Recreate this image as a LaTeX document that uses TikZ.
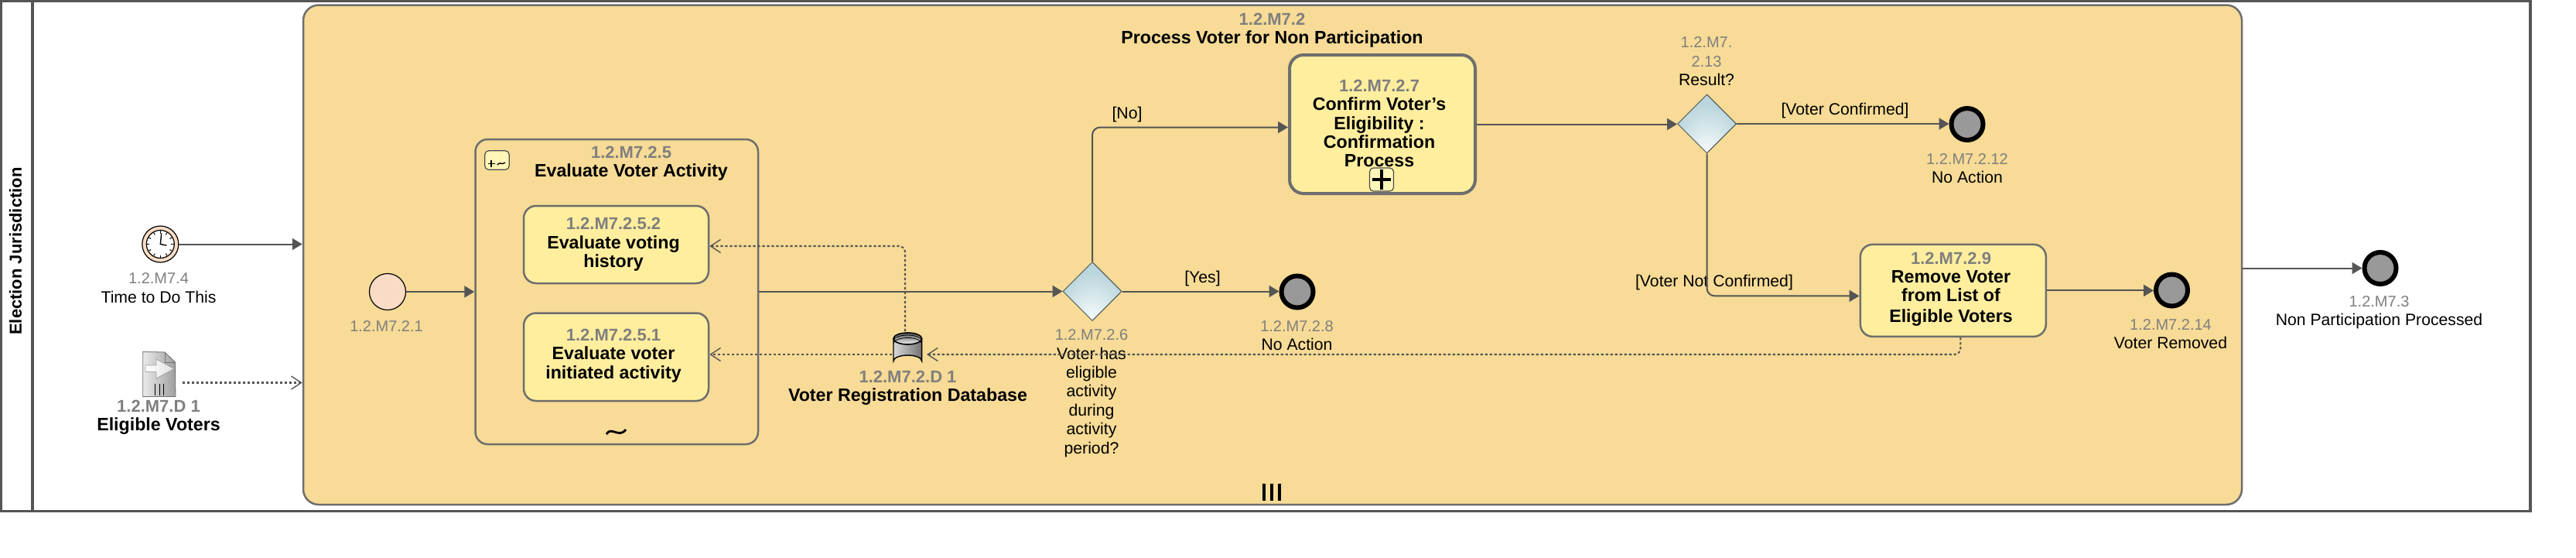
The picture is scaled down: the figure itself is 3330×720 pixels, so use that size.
\documentclass[tikz,border=0pt]{standalone}
\usepackage{fontspec}
\setmainfont{Liberation Sans}
\usepackage{xcolor}
\usepackage{tikz}
\usetikzlibrary{positioning,arrows.meta,shapes.geometric}
\definecolor{linegray}{HTML}{555555}
\definecolor{edgegray}{HTML}{6E6E6E}
\definecolor{idgray}{HTML}{7F7F7F}
\definecolor{processfill}{HTML}{F7DB96}
\definecolor{taskfill}{HTML}{FFEE9E}
\definecolor{markerfill}{HTML}{FFF6B8}
\definecolor{eventfill}{HTML}{FADCC5}
\definecolor{endfill}{HTML}{999999}
\definecolor{gateblue}{HTML}{BAD5DC}
\definecolor{gatelight}{HTML}{F8FCFC}
\pgfdeclareradialshading{gateshade}{\pgfpoint{0bp}{-25bp}}{color(0bp)=(gatelight); color(28bp)=(gateblue); color(50bp)=(gateblue)}
\newcommand{\idtag}[1]{{\fontsize{10}{12.2}\selectfont\color{idgray}#1}}
\newcommand{\idbold}[1]{{\fontsize{11}{12.2}\selectfont\color{idgray}#1}}
\tikzset{
  regtext/.style={inner sep=0pt,align=center,font=\fontsize{10.6}{12.2}\selectfont},
  boldtext/.style={inner sep=0pt,align=center,font=\fontsize{11.6}{12.2}\selectfont\bfseries},
  processbox/.style={draw=edgegray,line width=1.25pt,fill=processfill,rounded corners=10pt,inner sep=0pt},
  taskbox/.style={draw=edgegray,line width=1.25pt,fill=taskfill,rounded corners=8pt,inner sep=0pt},
  startevent/.style={circle,draw=black,line width=0.6pt,fill=eventfill,minimum size=23.5pt,inner sep=0pt},
  endevent/.style={circle,draw=black,line width=3pt,fill=endfill,minimum size=20.5pt,inner sep=0pt},
  gatebox/.style={diamond,draw=black!60!gateblue,line width=0.5pt,shade,shading=gateshade,minimum size=38pt,inner sep=0pt},
  markerbox/.style={draw=black!70,line width=0.6pt,fill=markerfill,rounded corners=2.5pt,inner sep=0pt},
  flow/.style={draw=linegray,line width=1pt,-{Triangle[length=6.5pt,width=7.5pt,fill=linegray]}},
  msgflow/.style={draw=linegray,line width=1.05pt,dash pattern=on 1.6pt off 1.4pt,-{Straight Barb[length=6.5pt,width=8.5pt,line width=0.7pt]}},
}
\begin{document}
\begin{tikzpicture}[x=0.5pt,y=-0.5pt]
\useasboundingbox (0,0) rectangle (3330,720);
\node[draw=linegray,line width=1.75pt,minimum width=1635pt,minimum height=329.5pt,inner sep=0pt] (pool) at (1636,331) {};
\draw[linegray,line width=1.75pt] (pool.north west -| 42,0) -- (pool.south west -| 42,0);
\node[boldtext,font=\fontsize{11}{12.2}\selectfont\bfseries,rotate=90] (poolname) at (20,324.5) {Election Jurisdiction};

\node[processbox,minimum width=1253pt,minimum height=322.75pt] (process) at (1645,329.25) {};
\node[boldtext] (processname) at (1644.5,39) {\idbold{1.2.M7.2}\\Process Voter for Non Participation};
\foreach \barx in {1634,1644,1654}
  \draw[black,line width=1.8pt] (\barx,625) -- (\barx,647);

\node[startevent,minimum size=23.5pt,fill=eventfill] (timer) at (207.3,315.5) {};
\filldraw[fill=white,draw=black,line width=0.6pt] (timer.center) circle (9pt);
\foreach \tick in {0,30,...,330}
  \draw[black,line width=0.5pt] ([shift={(\tick:7pt)}]timer.center) -- ([shift={(\tick:8.6pt)}]timer.center);
\draw[black,line width=0.7pt] ([xshift=0.7pt,yshift=7pt]timer.center) -- (timer.center) -- ([xshift=4pt,yshift=-0.8pt]timer.center);
\node[regtext] (timerlabel) at (205,372) {\idtag{1.2.M7.4}\\Time to Do This};

\node[inner sep=0pt,minimum width=20.75pt,minimum height=28.5pt] (voters) at (205.8,483.5) {};
\filldraw[draw=black!55,line width=0.4pt,left color=black!8,right color=black!38] (voters.north west) -- (213,455) -- (226.5,468) -- (voters.south east) -- (voters.south west) -- cycle;
\draw[black!55,line width=0.4pt] (213,455) -- (213,468) -- (226.5,468);
\filldraw[draw=black!35,line width=0.4pt,left color=white,right color=black!12] (188,472) -- (202,472) -- (202,464) -- (225,476.5) -- (202,489) -- (202,480.5) -- (188,480.5) -- cycle;
\foreach \barx in {200,206,211.7}
  \draw[black,line width=0.5pt] (\barx,496) -- (\barx,511);
\node[boldtext] (voterslabel) at (205,539.5) {\idbold{1.2.M7.D 1}\\Eligible Voters};
\coordinate (votersout) at (236,494.5);

\node[startevent] (start21) at (501,377) {};
\node[regtext] (start21label) at (499.5,421.5) {\idtag{1.2.M7.2.1}};

\node[processbox,rounded corners=8pt,minimum width=182.75pt,minimum height=197pt] (sub25) at (797.25,377) {};
\node[markerbox,minimum width=15.75pt,minimum height=12.25pt] (sub25mark) at (642.5,207) {};
\draw[black,line width=0.8pt] (635,207) -- (635,216);
\draw[black,line width=0.8pt] (630.5,211.5) -- (639.5,211.5);
\draw[black,line width=0.7pt] (643,213) .. controls (646,208) and (649,214) .. (653,210);
\node[boldtext] (sub25name) at (816,211.5) {\idbold{1.2.M7.2.5}\\Evaluate Voter Activity};
\node[taskbox,minimum width=119.5pt,minimum height=50pt] (task52) at (796.5,316) {};
\node[boldtext] (task52name) at (793,316) {\idbold{1.2.M7.2.5.2}\\Evaluate voting\\history};
\node[taskbox,minimum width=119.5pt,minimum height=56.75pt] (task51) at (796.5,461.25) {};
\node[boldtext] (task51name) at (793,459.5) {\idbold{1.2.M7.2.5.1}\\Evaluate voter\\initiated activity};
\draw[black,line width=1.4pt] (784,561) .. controls (790,550) and (800,567) .. (809,555);

\node[inner sep=0pt,minimum width=18.5pt,minimum height=22pt] (db) at (1173.3,452) {};
\filldraw[draw=black,line width=0.7pt,left color=black!15,middle color=white,right color=black!55] (1155,437.5) -- (1155,466.5) arc[start angle=180,end angle=360,x radius=18.3,y radius=7.5] -- (1191.6,437.5) -- cycle;
\filldraw[draw=black,line width=0.8pt,top color=black!65,bottom color=black!5] (1173.3,437.5) ellipse[x radius=18.3,y radius=7.5];
\foreach \bandy in {440.5,444}
  \draw[black,line width=0.4pt] (1155,\bandy) arc[start angle=180,end angle=360,x radius=18.3,y radius=7.5];
\node[boldtext] (dblabel) at (1173.5,501.5) {\idbold{1.2.M7.2.D 1}\\Voter Registration Database};
\coordinate (dbtop) at (1170,428);
\coordinate (dbin) at (1198,458);
\coordinate (dbout) at (1153,458);

\node[gatebox] (gate26) at (1412,376.5) {};
\node[regtext] (gate26label) at (1411,508) {\idtag{1.2.M7.2.6}\\Voter has\\eligible\\activity\\during\\activity\\period?};
\node[regtext] (yeslabel) at (1554.5,360) {[Yes]};
\node[regtext] (nolabel) at (1457,148) {[No]};

\node[endevent] (end28) at (1677,377) {};
\node[regtext] (end28label) at (1676.5,433.5) {\idtag{1.2.M7.2.8}\\No Action};

\node[taskbox,line width=2pt,rounded corners=9pt,minimum width=120pt,minimum height=89.5pt] (task27) at (1787,160.5) {};
\node[boldtext] (task27name) at (1783,159.5) {\idbold{1.2.M7.2.7}\\Confirm Voter's\\Eligibility :\\Confirmation\\Process};
\node[markerbox,minimum width=15.5pt,minimum height=15pt] (task27mark) at (1786,232) {};
\draw[black,line width=2pt] ([yshift=-1.5pt]task27mark.north) -- ([yshift=1.5pt]task27mark.south);
\draw[black,line width=2pt] ([xshift=2pt]task27mark.west) -- ([xshift=-2pt]task27mark.east);

\node[gatebox] (gate213) at (2206.5,160) {};
\node[regtext] (gate213label) at (2206,79.5) {\idtag{1.2.M7.}\\\idtag{2.13}\\Result?};
\node[regtext] (confirmedlabel) at (2385,143.5) {[Voter Confirmed]};
\node[regtext] (notconfirmedlabel) at (2216,365.5) {[Voter Not Confirmed]};

\node[endevent] (end212) at (2543,160.5) {};
\node[regtext] (end212label) at (2543,217.5) {\idtag{1.2.M7.2.12}\\No Action};

\node[taskbox,minimum width=120pt,minimum height=59.5pt] (task29) at (2524.8,375.4) {};
\node[boldtext] (task29name) at (2522,373.5) {\idbold{1.2.M7.2.9}\\Remove Voter\\from List of\\[1pt]Eligible Voters};

\node[endevent] (end214) at (2807.5,375) {};
\node[regtext] (end214label) at (2806,431.5) {\idtag{1.2.M7.2.14}\\Voter Removed};

\node[endevent] (end3) at (3077,346.5) {};
\node[regtext] (end3label) at (3075.5,404) {\idtag{1.2.M7.3}\\Non Participation Processed};

\draw[flow] (timer) -- (timer -| process.west);
\draw[msgflow] (votersout) -- (votersout -| process.west);
\draw[flow] (start21) -- (start21 -| sub25.west);
\draw[flow] (gate26 -| sub25.east) -- (gate26);
\draw[flow] (gate26) -- (gate26 -| end28.west);
\draw[flow,rounded corners=5pt] (gate26.north) |- ([yshift=-2pt]task27.west);
\draw[flow] (task27) -- (task27 -| gate213.west);
\draw[flow] (gate213) -- (gate213 -| end212.west);
\draw[flow,rounded corners=5pt] (gate213.south) |- ([yshift=-3.5pt]task29.west);
\draw[flow] (task29) -- (task29 -| end214.west);
\draw[flow] (end3 -| process.east) -- (end3);
\draw[msgflow,rounded corners=4pt] ([xshift=4.8pt]task29.south) |- (dbin);
\draw[msgflow] (dbout) -- (dbout -| task51.east);
\draw[msgflow,rounded corners=4pt] (dbtop) |- ([yshift=-1pt]task52.east);
\end{tikzpicture}
\end{document}
